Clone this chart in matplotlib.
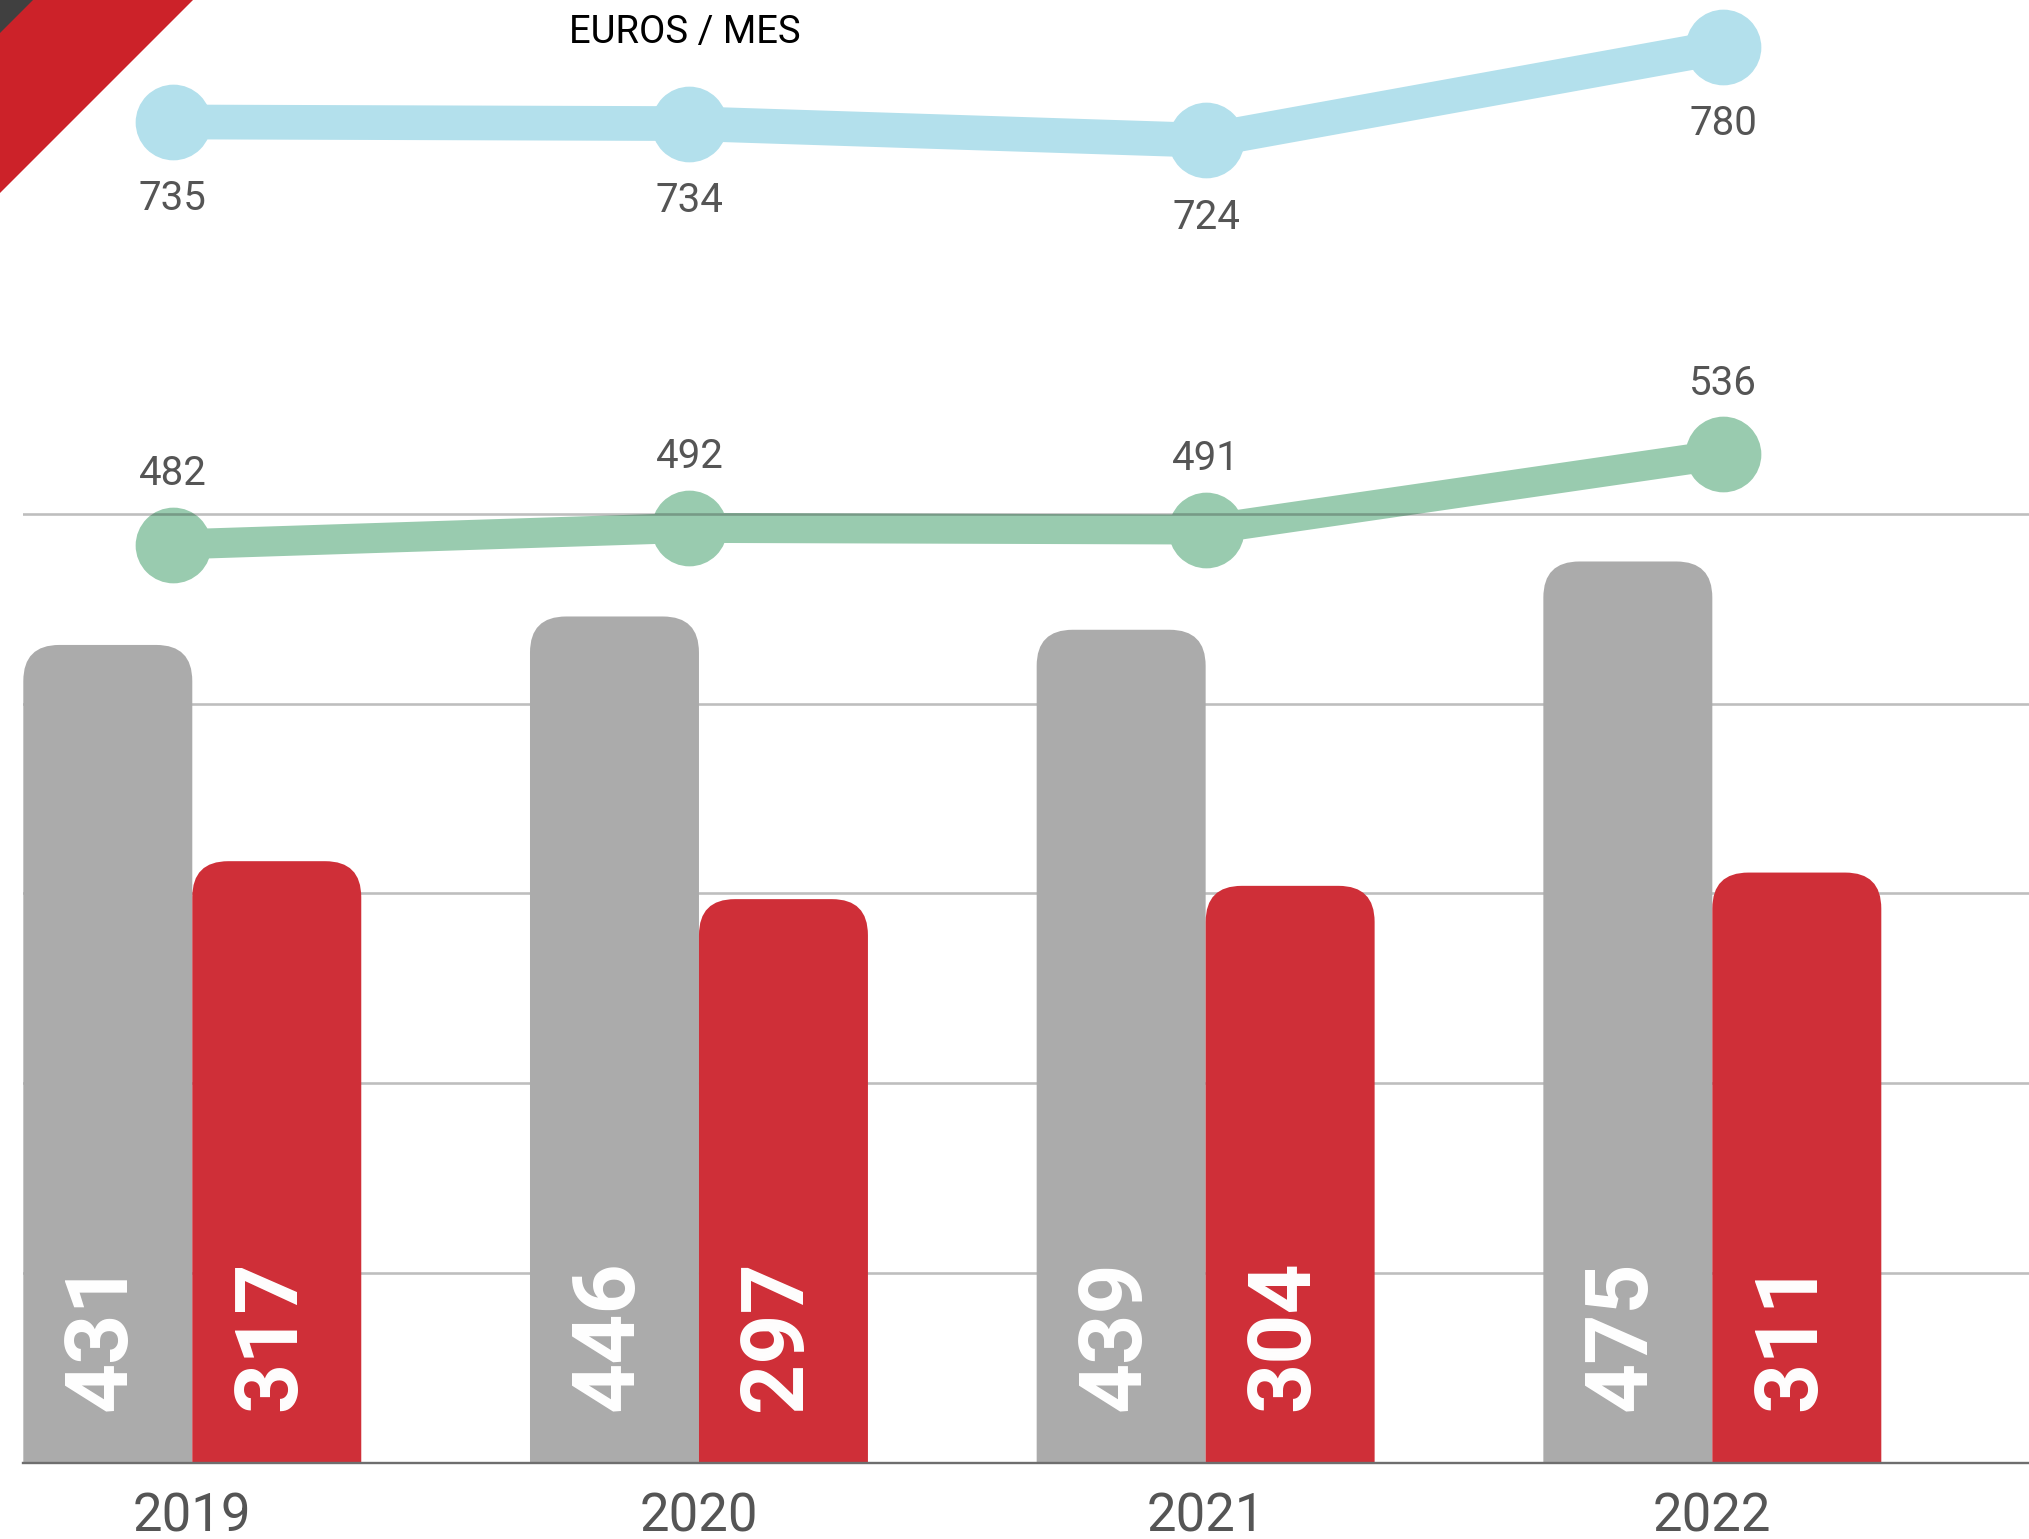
import matplotlib
matplotlib.use("Agg")
import matplotlib.pyplot as plt
from matplotlib.patches import FancyBboxPatch, Polygon

plt.rcParams['font.family'] = ['Roboto', 'DejaVu Sans']

# --- data ---
years = ["2019", "2020", "2021", "2022"]
gray_vals = [431, 446, 439, 475]
red_vals = [317, 297, 304, 311]
blue_vals = [735, 734, 724, 780]
green_vals = [482, 492, 491, 536]

# --- colours ---
gray_c = '#ABABAB'
red_c = '#CF2F38'
blue_c = '#B3E0EC'
green_c = '#99CBAF'
label_c = '#555555'

W, H = 2029, 1539
DPI = 100
fig = plt.figure(figsize=(W / DPI, H / DPI), dpi=DPI, facecolor='white')

left = 22.7 / W
bottom = (H - 1462.5) / H
rect = [left, bottom, 1 - left, 1 - bottom]

ax_lines = fig.add_axes(rect, zorder=0)
ax_bars = fig.add_axes(rect, zorder=1)
for a in (ax_lines, ax_bars):
    a.patch.set_visible(False)
    for s in a.spines.values():
        s.set_visible(False)

# --- lines (own scale) ---
x = list(range(len(years)))
ax_lines.set_xlim(-0.290, 3.592)
ax_lines.set_ylim(-67.5, 808.0)
ax_lines.set_xticks([])
ax_lines.set_yticks([])

ax_lines.plot(x, blue_vals, color=blue_c, lw=25, marker='o', ms=54.5,
              mec='none', solid_capstyle='butt', solid_joinstyle='round')
ax_lines.plot(x, green_vals, color=green_c, lw=21.6, marker='o', ms=54.5,
              mec='none', solid_capstyle='butt', solid_joinstyle='round')

px = 72 / DPI  # points per pixel
for xi, v in zip(x, blue_vals):
    ax_lines.annotate(str(v), (xi, v), xytext=(0, -77 * px), textcoords='offset points',
                      ha='center', va='center', fontsize=29, color=label_c)
for xi, v in zip(x, green_vals):
    ax_lines.annotate(str(v), (xi, v), xytext=(0, 71 * px), textcoords='offset points',
                      ha='center', va='center', fontsize=29, color=label_c)

# --- bars ---
ax_bars.set_xlim(-0.3347, 3.625)
ax_bars.set_ylim(0, 771)
bw = 0.3335
r_px = 36
rx = r_px / 506.7
ry = r_px / 1.897

for i, (g, r) in enumerate(zip(gray_vals, red_vals)):
    for x0, v, c in ((i - bw, g, gray_c), (i, r, red_c)):
        p = FancyBboxPatch((x0, -ry), bw, v + ry,
                           boxstyle=f"round,pad=0,rounding_size={rx}",
                           mutation_aspect=ry / rx, fc=c, ec='none', zorder=2)
        ax_bars.add_patch(p)
        ax_bars.annotate(str(v), (x0 + bw / 2, 27), xytext=(-6 * px, 0),
                         textcoords='offset points', rotation=90,
                         ha='center', va='bottom', fontsize=63,
                         fontweight='bold', color='white', zorder=3)

ax_bars.set_yticks([100, 200, 300, 400, 500])
ax_bars.set_axisbelow(True)
ax_bars.yaxis.grid(True, color='#2a2a2a', alpha=0.3, lw=1.9)
ax_bars.tick_params(axis='y', left=False, labelleft=False)
ax_bars.spines['bottom'].set_visible(True)
ax_bars.spines['bottom'].set_color('#6e6e6e')
ax_bars.spines['bottom'].set_linewidth(1.7)
ax_bars.spines['bottom'].set_zorder(3)
ax_bars.set_xticks(x, years)
ax_bars.tick_params(axis='x', length=0, pad=21, labelsize=38, labelcolor=label_c)

# --- header ---
fig.text(685 / W, 1 - 32.5 / H, "EUROS / MES", ha='center', va='center',
         fontsize=27.5, color='black')

# corner decoration
fig.add_artist(Polygon([[0, 1], [193 / W, 1], [0, 1 - 193 / H]],
                       closed=True, transform=fig.transFigure, fc='#CC2229', ec='none'))
fig.add_artist(Polygon([[0, 1], [33 / W, 1], [0, 1 - 33 / H]],
                       closed=True, transform=fig.transFigure, fc='#404040', ec='none'))

fig.savefig('out.png', dpi=DPI, facecolor='white')
